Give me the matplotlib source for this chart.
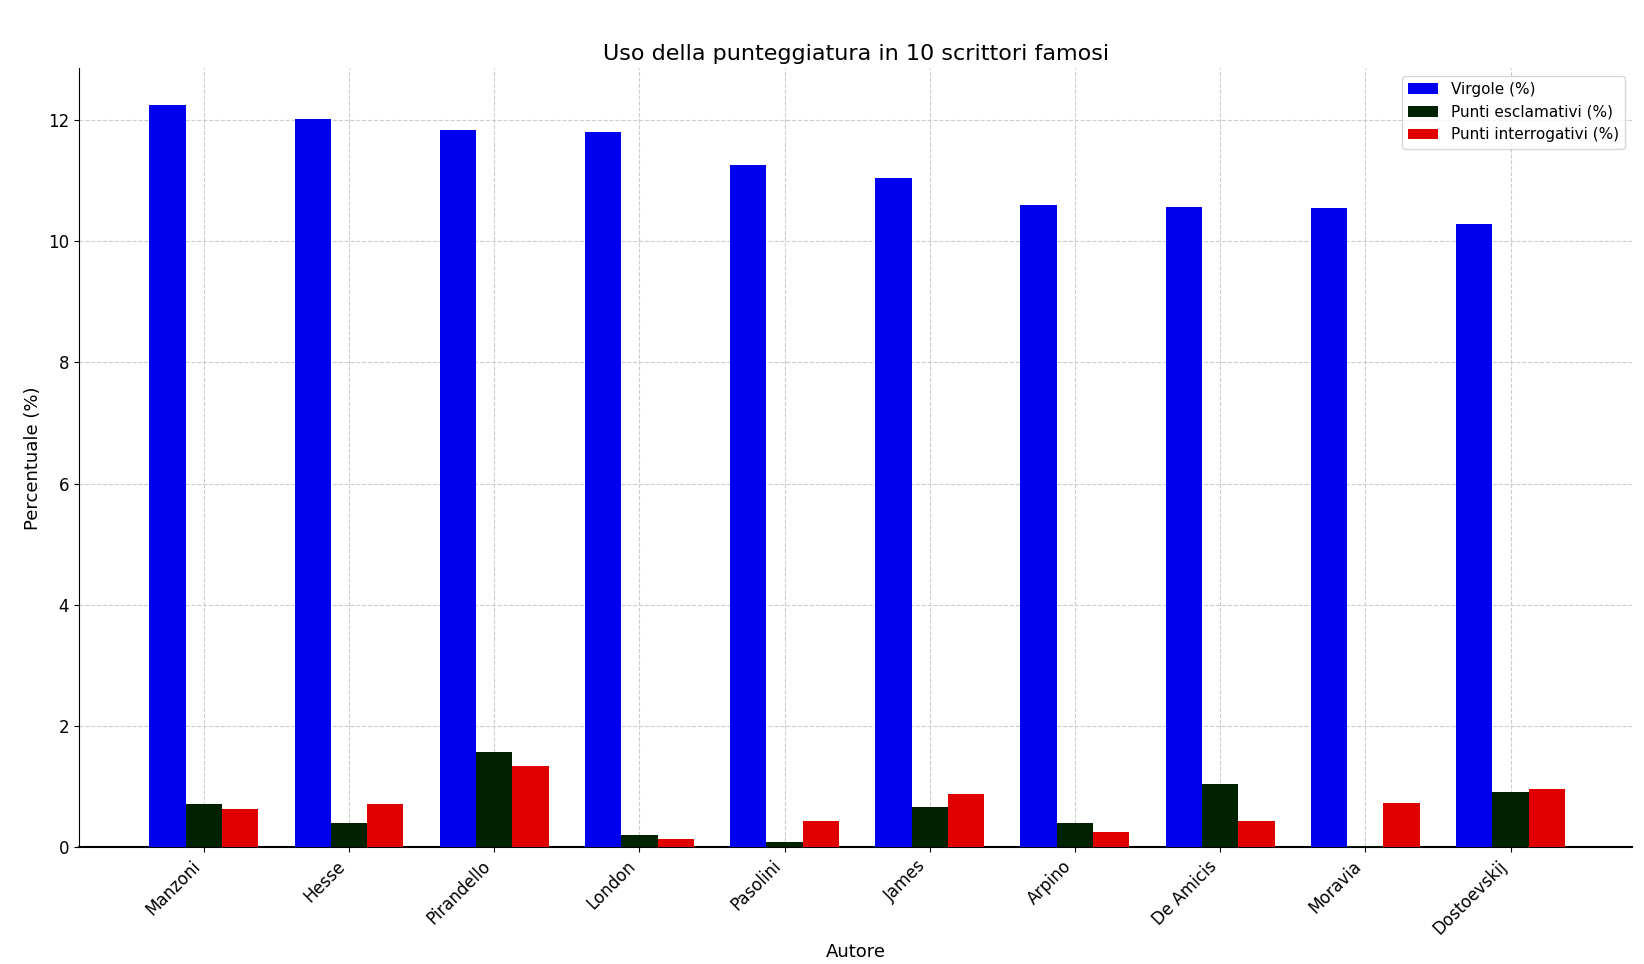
import matplotlib
matplotlib.use("Agg")
import matplotlib.pyplot as plt
import numpy as np

autori = ["Manzoni", "Hesse", "Pirandello", "London", "Pasolini", "James", "Arpino", "De Amicis", "Moravia", "Dostoevskij"]
virgole = [12.24, 12.02, 11.83, 11.80, 11.26, 11.05, 10.60, 10.57, 10.55, 10.28]
esclamativi = [0.71, 0.40, 1.57, 0.21, 0.09, 0.67, 0.40, 1.04, 0.03, 0.92]
interrogativi = [0.64, 0.71, 1.35, 0.14, 0.43, 0.88, 0.26, 0.43, 0.74, 0.97]

fig = plt.figure(figsize=(16.44, 9.64), dpi=100)
ax = fig.add_axes([0.048, 0.121, 0.945, 0.808])
x = np.arange(len(autori))
w = 0.25
ax.bar(x - w, virgole, w, color="#0000ee", label="Virgole (%)", zorder=3)
ax.bar(x, esclamativi, w, color="#002200", label="Punti esclamativi (%)", zorder=3)
ax.bar(x + w, interrogativi, w, color="#e00000", label="Punti interrogativi (%)", zorder=3)
ax.set_xticks(x)
ax.set_xticklabels(autori, rotation=45, ha="right", fontsize=12)
ax.tick_params(axis="y", labelsize=12)
ax.set_xlim(-0.86, 9.84)
ax.set_ylim(0, 12.85)
ax.set_ylabel("Percentuale (%)", fontsize=13)
ax.set_xlabel("Autore", fontsize=13)
ax.set_title("Uso della punteggiatura in 10 scrittori famosi", fontsize=16)
ax.grid(True, linestyle="--", color="#cccccc", linewidth=0.8, zorder=0)
for s in ["top", "right"]:
    ax.spines[s].set_visible(False)
ax.spines["bottom"].set_linewidth(1.5)
ax.legend(loc="upper right", fontsize=11)
fig.savefig("out.png", dpi=100)
